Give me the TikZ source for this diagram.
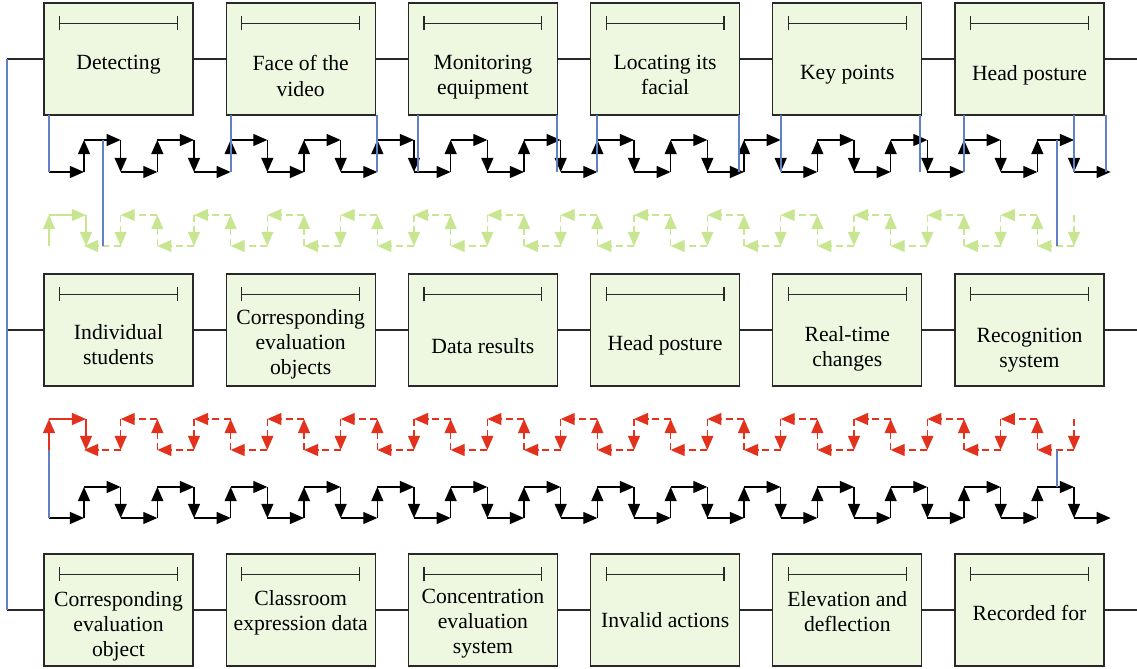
\documentclass[tikz,border=0pt]{standalone}
\usepackage{fontspec}
\setmainfont{Liberation Serif}
\usetikzlibrary{arrows.meta, calc, positioning}
\definecolor{boxfill}{RGB}{238,247,224}
\definecolor{boxline}{RGB}{40,40,40}
\definecolor{linkblue}{RGB}{98,128,200}
\definecolor{flowgreen}{RGB}{200,230,145}
\definecolor{flowred}{RGB}{226,50,30}
\newcommand{\boxf}{\fontsize{15.4}{17.8}\selectfont}
\tikzset{
  stage/.style={draw=boxline, fill=boxfill, line width=0.9pt, minimum width=3.725cm, minimum height=2.8cm, inner sep=0pt},
  lbl/.style={align=center, inner sep=0pt, font=\boxf},
  wire/.style={draw=boxline, line width=0.9pt},
  link/.style={draw=linkblue, line width=0.8pt},
  fwd/.style={line width=1pt, ->},
  back/.style={line width=1pt, ->, dash pattern=on 5pt off 3pt},
  ibar/.style={draw=boxline, line width=0.9pt, {Bar[width=10pt]}-{Bar[width=10pt]}}
}
% black zigzag: #1 top, #2 bottom
\newcommand{\zigfwd}[2]{%
  \draw[fwd] (49,#2) -- (84,#2);
  \foreach \k [evaluate=\k as \x using 84+36.667*\k] in {0,...,27}{
    \ifodd\k
      \draw[fwd] (\x,#1) -- (\x,#2);
      \draw[fwd] (\x,#2) -- (\x+36.667,#2);
    \else
      \draw[fwd] (\x,#2) -- (\x,#1);
      \draw[fwd] (\x,#1) -- (\x+36.667,#1);
    \fi
  }}
% dashed zigzag running back: #1 colour, #2 top, #3 bottom
\newcommand{\zigback}[3]{%
  \draw[fwd,#1] (49,#3) -- (49,#2);
  \draw[fwd,#1] (49,#2) -- (86,#2);
  \draw[fwd,#1] (86,#2) -- (86,#3);
  \foreach \k [evaluate=\k as \x using 84+36.667*\k] in {1,...,27}{
    \ifodd\k
      \draw[back,#1] (\x,#2) -- (\x,#3);
      \draw[back,#1] (\x,#3) -- (\x-36.667,#3);
    \else
      \draw[back,#1] (\x,#3) -- (\x,#2);
      \draw[back,#1] (\x,#2) -- (\x-36.667,#2);
    \fi
  }}

\begin{document}
\begin{tikzpicture}[x=0.025cm, y=-0.025cm, >={Triangle[length=10pt,width=8.5pt]}]
\useasboundingbox (0,0) rectangle (1137,669);

%Top row
\foreach \txt/\ty [count=\i] in {Detecting/65, {Face of the\\video}/76, {Monitoring\\equipment}/77,
  {Locating its\\facial}/75, {Key points}/75, {Head posture}/75}{
  \node[stage] (t\i) at ({118.5+182.2*(\i-1)},59) {};
  \draw[ibar] ($(t\i.north)+(-59.5,21)$) -- ($(t\i.north)+(59.5,21)$);
  \node[lbl] (t\i-l) at ({118.5+182.2*(\i-1)},\ty) {\txt};
}
%Middle row
\foreach \txt/\ty [count=\i] in {{Individual\\students}/345, {Corresponding\\evaluation\\objects}/344,
  {Data results}/346, {Head posture}/345, {Real-time\\changes}/349, {Recognition\\system}/350}{
  \node[stage] (m\i) at ({118.5+182.2*(\i-1)},330) {};
  \draw[ibar] ($(m\i.north)+(-59.5,21)$) -- ($(m\i.north)+(59.5,21)$);
  \node[lbl] (m\i-l) at ({118.5+182.2*(\i-1)},\ty) {\txt};
}
%Bottom row
\foreach \txt/\ty [count=\i] in {{Corresponding\\evaluation\\object}/626, {Classroom\\expression data}/613,
  {Concentration\\evaluation\\system}/624, {Invalid actions}/620, {Elevation and\\deflection}/612, {Recorded for}/613}{
  \node[stage] (b\i) at ({118.5+182.2*(\i-1)},610) {};
  \draw[ibar] ($(b\i.north)+(-59.5,21)$) -- ($(b\i.north)+(59.5,21)$);
  \node[lbl] (b\i-l) at ({118.5+182.2*(\i-1)},\ty) {\txt};
}

%Wires through each row
\foreach \r/\y in {t/59, m/330, b/610}{
  \coordinate (\r L) at (7,\y);
  \coordinate (\r R) at (1137,\y);
  \draw[wire] (\r L) -- (\r1);
  \foreach \j [evaluate=\j as \n using int(\j+1)] in {1,...,5}
    \draw[wire] (\r\j) -- (\r\n);
  \draw[wire] (\r6) -- (\r R);
}
\draw[link] (tL) -- (bL); %left rail

%Zigzags
\zigfwd{140}{172}
\zigback{flowgreen}{215}{246}
\zigback{flowred}{419}{450}
\zigfwd{487}{518}

%Blue drops
\foreach \x in {49, 231, 377, 418, 557, 597, 739, 781, 920, 964, 1074, 1106}
  \draw[link] (\x,115) -- (\x,172);
\draw[link] (103,140) -- (103,246);
\draw[link] (1057,140) -- (1057,246);
\draw[link] (49,450) -- (49,518);
\draw[link] (1057,450) -- (1057,487);
\end{tikzpicture}
\end{document}
